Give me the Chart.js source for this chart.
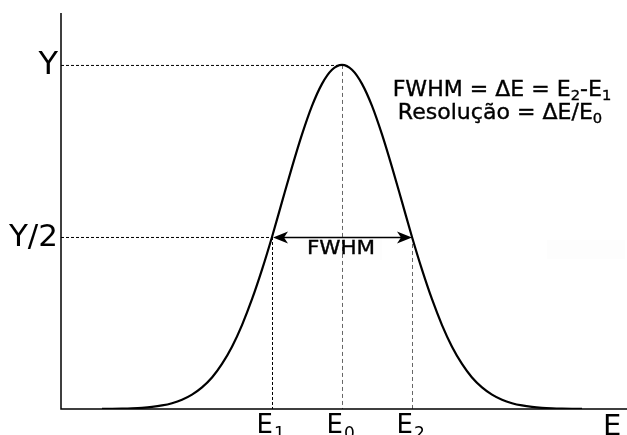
<!DOCTYPE html>
<html>
<head>
<meta charset="utf-8">
<script src="https://cdn.jsdelivr.net/npm/chart.js@4"></script>
<style>
  html, body { margin: 0; padding: 0; background: #fff; }
  canvas { display: block; }
</style>
</head>
<body>
<canvas id="fwhmChart" width="627" height="435"></canvas>
<script>
// Energia (unidades arbitrárias) e contagens normalizadas
const energy = [41, 51, 61, 71, 81, 91, 101, 111, 121, 131, 141, 151, 161, 171, 181, 191, 201, 211, 221, 231, 241, 251, 261, 271,
  281, 291, 301, 311, 321, 331, 341, 351, 361, 371, 381, 391, 401, 411, 421, 431, 441, 451, 461, 471, 481, 491, 501, 511, 521];
const counts = [0.0003, 0.0006, 0.0011, 0.002, 0.0035, 0.0061, 0.0103, 0.0169, 0.0269, 0.0417, 0.0627, 0.0915, 0.131, 0.181, 0.244, 0.319, 0.405, 0.500, 0.602, 0.703, 0.798, 0.881, 0.945, 0.986,
  1.0, 0.986, 0.945, 0.881, 0.798, 0.703, 0.602, 0.500, 0.405, 0.319, 0.244, 0.181, 0.131, 0.0915, 0.0627, 0.0417, 0.0269, 0.0169, 0.0103, 0.0061, 0.0035, 0.002, 0.0011, 0.0006, 0.0003];

// Marcadores
const e0 = 281;
const e1 = 211;
const e2 = 351;
const peak = 1.0;
const half = 0.5;
const yLabels = ['Y', 'Y/2'];
const eLabels = [['E', '1'], ['E', '0'], ['E', '2']];
const axisTitle = 'E';
const formulaLines = [
  [['FWHM = ΔE = E', false], ['2', true], ['-E', false], ['1', true]],
  [['Resolução = ΔE/E', false], ['0', true]]
];
const arrowLabel = 'FWHM';

const FONT = '"DejaVu Sans", sans-serif';

// texto com subscritos, retorna largura
function richWidth(ctx, parts, size) {
  let w = 0;
  parts.forEach(p => {
    ctx.font = (p[1] ? Math.round(size * 0.68) : size) + 'px ' + FONT;
    w += ctx.measureText(p[0]).width;
  });
  return w;
}
function drawRich(ctx, parts, x, y, size) {
  ctx.textAlign = 'left';
  ctx.textBaseline = 'alphabetic';
  parts.forEach(p => {
    const s = p[1] ? Math.round(size * 0.68) : size;
    const yy = p[1] ? y + size * 0.2 : y;
    ctx.font = s + 'px ' + FONT;
    ctx.fillText(p[0], x, yy);
    ctx.strokeText(p[0], x, yy);
    x += ctx.measureText(p[0]).width;
  });
}

function arrowHead(ctx, x, y, dir) {
  // dir = -1 aponta para a esquerda, 1 para a direita
  ctx.beginPath();
  ctx.moveTo(x, y);
  ctx.lineTo(x - dir * 15, y - 6);
  ctx.lineTo(x - dir * 11, y);
  ctx.lineTo(x - dir * 15, y + 6);
  ctx.closePath();
  ctx.fill();
}

const guides = {
  id: 'guides',
  beforeDatasetsDraw(chart) {
    const ctx = chart.ctx;
    const xs = chart.scales.x, ys = chart.scales.y;
    const area = chart.chartArea;
    const yPeak = ys.getPixelForValue(peak);
    const yHalf = ys.getPixelForValue(half);
    const x0 = xs.getPixelForValue(e0), x1 = xs.getPixelForValue(e1), x2 = xs.getPixelForValue(e2);
    ctx.save();
    // caixas quase brancas
    ctx.fillStyle = '#fdfdfd';
    ctx.fillRect(300, 238, 82, 22);
    ctx.fillRect(547, 240, 78, 19);
    ctx.lineWidth = 1;
    ctx.setLineDash([3, 2]);
    ctx.strokeStyle = '#000';
    ctx.beginPath();
    ctx.moveTo(area.left, yPeak + 0.5); ctx.lineTo(x0, yPeak + 0.5);
    ctx.moveTo(area.left, yHalf + 0.5); ctx.lineTo(x1, yHalf + 0.5);
    ctx.moveTo(x1 + 0.5, yHalf); ctx.lineTo(x1 + 0.5, area.bottom);
    ctx.stroke();
    ctx.strokeStyle = '#666';
    ctx.setLineDash([4, 3]);
    ctx.beginPath();
    ctx.moveTo(x0 + 0.5, yPeak); ctx.lineTo(x0 + 0.5, area.bottom);
    ctx.moveTo(x2 + 0.5, yHalf); ctx.lineTo(x2 + 0.5, area.bottom);
    ctx.stroke();
    ctx.restore();
  },
  afterDatasetsDraw(chart) {
    const ctx = chart.ctx;
    const xs = chart.scales.x, ys = chart.scales.y;
    const area = chart.chartArea;
    const yPeak = ys.getPixelForValue(peak);
    const yHalf = ys.getPixelForValue(half);
    const eX = [xs.getPixelForValue(e1), xs.getPixelForValue(e0), xs.getPixelForValue(e2)];
    ctx.save();
    // eixos
    ctx.strokeStyle = '#000';
    ctx.lineWidth = 1.5;
    ctx.beginPath();
    ctx.moveTo(area.left, 13);
    ctx.lineTo(area.left, area.bottom);
    ctx.lineTo(chart.width, area.bottom);
    ctx.stroke();

    // seta FWHM
    ctx.fillStyle = '#000';
    ctx.lineWidth = 1.3;
    ctx.beginPath();
    ctx.moveTo(eX[0] + 8, yHalf + 0.5);
    ctx.lineTo(eX[2] - 8, yHalf + 0.5);
    ctx.stroke();
    arrowHead(ctx, eX[0] + 1, yHalf + 0.5, -1);
    arrowHead(ctx, eX[2], yHalf + 0.5, 1);
    ctx.save();
    ctx.translate(341, 254);
    ctx.scale(1.13, 1);
    ctx.font = '19px ' + FONT;
    ctx.textAlign = 'center';
    ctx.textBaseline = 'alphabetic';
    ctx.fillStyle = '#000';
    ctx.strokeStyle = '#000';
    ctx.lineWidth = 0.35;
    ctx.fillText(arrowLabel, 0, 0);
    ctx.strokeText(arrowLabel, 0, 0);
    ctx.restore();

    // rótulos do eixo Y
    ctx.fillStyle = '#000';
    ctx.textAlign = 'right';
    ctx.textBaseline = 'middle';
    ctx.font = '32px ' + FONT;
    ctx.fillText(yLabels[0], 58, yPeak + 1);
    ctx.font = '31px ' + FONT;
    ctx.fillText(yLabels[1], 58, yHalf + 1);

    // rótulos do eixo E
    eLabels.forEach((l, i) => {
      ctx.textAlign = 'right';
      ctx.textBaseline = 'alphabetic';
      ctx.font = '26px ' + FONT;
      ctx.fillText(l[0], eX[i] + 1, 433);
      ctx.textAlign = 'left';
      ctx.font = '17px ' + FONT;
      ctx.fillText(l[1], eX[i] + 2, 439);
    });
    ctx.textAlign = 'left';
    ctx.font = '29px ' + FONT;
    ctx.fillText(axisTitle, 603, 435);

    // fórmulas (texto um pouco esticado na horizontal)
    ctx.fillStyle = '#000';
    ctx.strokeStyle = '#000';
    ctx.lineWidth = 0.35;
    const centers = [502, 500];
    const bases = [96, 119];
    formulaLines.forEach((parts, i) => {
      const w = richWidth(ctx, parts, 21);
      ctx.save();
      ctx.translate(centers[i], bases[i]);
      ctx.scale(1.05, 1);
      drawRich(ctx, parts, -w / 2, 0, 21);
      ctx.restore();
    });
    ctx.restore();
  }
};

new Chart(document.getElementById('fwhmChart').getContext('2d'), {
  type: 'line',
  data: {
    datasets: [{
      data: energy.map((e, i) => ({ x: e, y: counts[i] })),
      borderColor: '#000',
      borderWidth: 2.2,
      pointRadius: 0,
      fill: false,
      cubicInterpolationMode: 'monotone'
    }]
  },
  options: {
    responsive: false,
    animation: false,
    layout: { padding: { left: 61, right: 0, top: 13, bottom: 26 } },
    plugins: { legend: { display: false }, tooltip: { enabled: false } },
    scales: {
      x: { type: 'linear', display: false, min: 0, max: 566 },
      y: { display: false, min: 0, max: 1.151 }
    }
  },
  plugins: [guides]
});
</script>
</body>
</html>
